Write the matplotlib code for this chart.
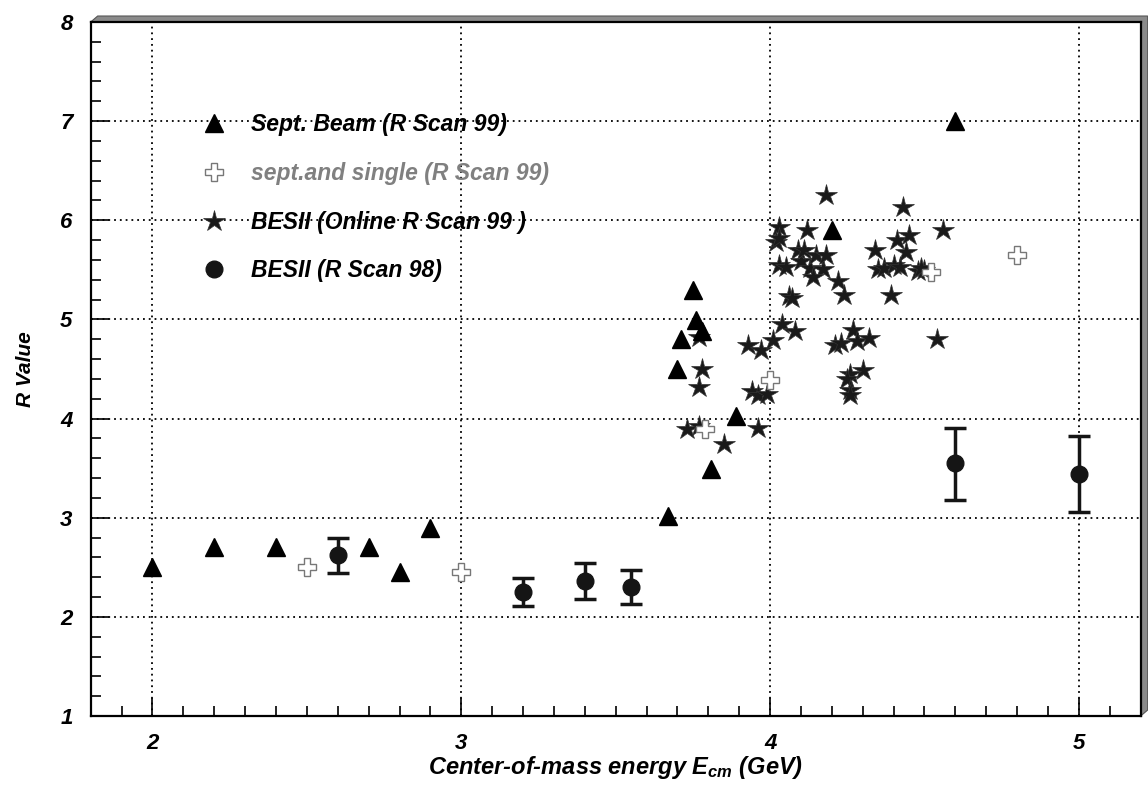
import matplotlib
matplotlib.use("Agg")
import matplotlib.pyplot as plt
from matplotlib.patches import Polygon
from matplotlib.lines import Line2D
from matplotlib.ticker import MultipleLocator

plt.rcParams['font.family'] = ['Liberation Sans', 'DejaVu Sans']
plt.rcParams['mathtext.fontset'] = 'custom'
plt.rcParams['mathtext.rm'] = 'Liberation Sans:bold:italic'
plt.rcParams['mathtext.it'] = 'Liberation Sans:bold:italic'
plt.rcParams['mathtext.bf'] = 'Liberation Sans:bold:italic'

# Sept. Beam (R Scan 99)
tri_E = [2.0, 2.2, 2.4, 2.7, 2.8, 2.9, 3.67, 3.70, 3.71, 3.75, 3.76, 3.78, 3.81, 3.89, 4.20, 4.60]
tri_R = [2.5, 2.7, 2.7, 2.7, 2.45, 2.9, 3.02, 4.5, 4.8, 5.3, 4.99, 4.88, 3.49, 4.03, 5.9, 7.0]

# sept.and single (R Scan 99)
crs_E = [2.5, 3.0, 3.79, 4.0, 4.52, 4.80]
crs_R = [2.5, 2.45, 3.89, 4.39, 5.48, 5.65]

# BESII (Online R Scan 99)
star_E = [3.73, 3.77, 3.85, 3.96, 3.77, 3.78, 3.77, 3.93, 3.97, 4.01,
          3.94, 3.96, 3.99, 4.04, 4.08, 4.06, 4.07, 4.03, 4.05, 4.10,
          4.13, 4.17, 4.14, 4.22, 4.24, 4.03, 4.02, 4.03, 4.12, 4.09,
          4.11, 4.15, 4.18, 4.18, 4.21, 4.23, 4.27, 4.28, 4.32, 4.30,
          4.26, 4.25, 4.26, 4.26, 4.34, 4.35, 4.37, 4.40, 4.42, 4.39,
          4.41, 4.43, 4.45, 4.44, 4.48, 4.50, 4.56, 4.54, 4.49]
star_R = [3.89, 3.93, 3.74, 3.91, 4.32, 4.50, 4.82, 4.74, 4.69, 4.79,
          4.28, 4.24, 4.25, 4.95, 4.88, 5.24, 5.22, 5.55, 5.53, 5.59,
          5.52, 5.51, 5.43, 5.39, 5.25, 5.93, 5.78, 5.82, 5.90, 5.70,
          5.70, 5.65, 5.65, 6.26, 4.74, 4.76, 4.89, 4.78, 4.81, 4.49,
          4.45, 4.40, 4.29, 4.24, 5.70, 5.51, 5.52, 5.55, 5.53, 5.25,
          5.80, 6.13, 5.85, 5.68, 5.49, 5.50, 5.90, 4.80, 5.52]

# BESII (R Scan 98)
c_E = [2.6, 3.2, 3.4, 3.55, 4.6, 5.0]
c_R = [2.62, 2.25, 2.36, 2.30, 3.55, 3.44]
c_lo = [0.18, 0.14, 0.18, 0.17, 0.37, 0.38]
c_hi = [0.18, 0.14, 0.18, 0.17, 0.36, 0.38]

x_ticks = [2, 3, 4, 5]
y_ticks = [1, 2, 3, 4, 5, 6, 7, 8]
labels = ['Sept. Beam (R Scan 99)', 'sept.and single (R Scan 99)',
          'BESII (Online R Scan 99 )', 'BESII (R Scan 98)']

fig = plt.figure(figsize=(11.48, 7.89), dpi=100)
L, B, W, H = 0.0790, 0.0925, 0.9146, 0.8796
ax = fig.add_axes([L, B, W, H])
ax.set_zorder(2)

# 3D-like shadow on top and right of frame
dx, dy = 7 / 1148, 6 / 789
shadow = Polygon([[L, B + H], [L + dx, B + H + dy], [L + W + dx, B + H + dy],
                  [L + W + dx, B + dy], [L + W, B], [L + W, B + H]],
                 closed=True, transform=fig.transFigure, facecolor='#8a8a8a',
                 edgecolor='#555555', lw=0.8, zorder=1)
fig.patches.append(shadow)

ax.set_xlim(1.8, 5.2)
ax.set_ylim(1, 8)

ax.grid(True, which='major', color='black', linestyle=(0, (1, 2.2)), linewidth=1.3)
ax.set_axisbelow(True)

h1, = ax.plot(tri_E, tri_R, linestyle='none', marker='^', ms=13, color='black', zorder=4)
h2, = ax.plot(crs_E, crs_R, linestyle='none', marker='P', ms=13, markerfacecolor='white',
              markeredgecolor='#777777', markeredgewidth=1.0, zorder=4)
h3, = ax.plot(star_E, star_R, linestyle='none', marker='*', ms=16, color='#1a1a1a',
              markeredgecolor='#333333', markeredgewidth=0.5, zorder=3)
ax.errorbar(c_E, c_R, yerr=[c_lo, c_hi], fmt='o', ms=12, color='#151515',
            ecolor='#151515', elinewidth=2.5, capsize=8, capthick=2.5, zorder=5)
h4 = Line2D([], [], linestyle='none', marker='o', ms=12, color='#151515')

ax.set_xticks(x_ticks)
ax.set_yticks(y_ticks)
ax.xaxis.set_minor_locator(MultipleLocator(0.1))
ax.yaxis.set_minor_locator(MultipleLocator(0.2))
ax.tick_params(which='both', direction='in', top=False, right=False, width=1.2,
               labelsize=16)
ax.tick_params(which='major', length=13)
ax.tick_params(which='minor', length=7)
ax.tick_params(axis='x', pad=12)
ax.tick_params(axis='y', pad=13)
for lab in ax.get_xticklabels() + ax.get_yticklabels():
    lab.set_fontweight('bold')
    lab.set_fontstyle('italic')

for s in ax.spines.values():
    s.set_linewidth(1.6)

ax.set_xlabel('Center-of-mass energy $E_{cm}$ (GeV)', fontsize=17,
              fontweight='bold', fontstyle='italic', labelpad=0)
ax.set_ylabel('R Value', fontsize=15, fontweight='bold', fontstyle='italic',
              labelpad=18)

leg = ax.legend([h1, h2, h3, h4], labels, loc='upper left',
                bbox_to_anchor=(0.096, 0.885),
                frameon=False, borderpad=0, handlelength=1.0,
                handletextpad=1.1, labelspacing=1.12,
                prop={'size': 16.5, 'weight': 'bold', 'style': 'italic'})
leg.get_texts()[1].set_color('#808080')
leg.set_zorder(6)

fig.savefig('out.png', dpi=100)
